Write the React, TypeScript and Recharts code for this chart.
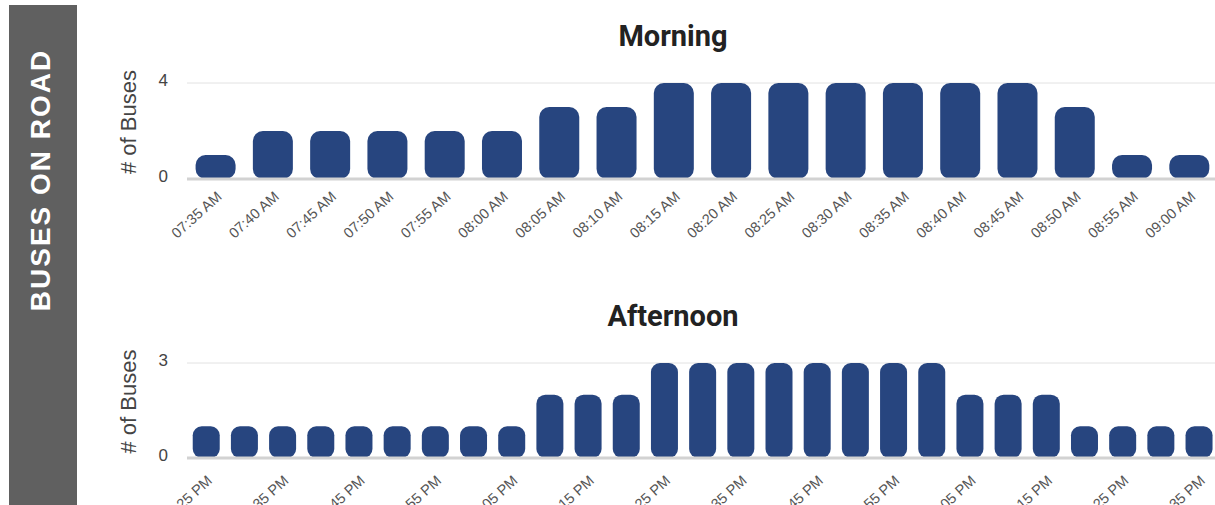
import React from "react";
import { BarChart, Bar, XAxis, YAxis, CartesianGrid } from "recharts";

// Morning run: 5-minute slots and buses on the road in each slot
const morningTimes = [
  "07:35 AM", "07:40 AM", "07:45 AM", "07:50 AM", "07:55 AM", "08:00 AM",
  "08:05 AM", "08:10 AM", "08:15 AM", "08:20 AM", "08:25 AM", "08:30 AM",
  "08:35 AM", "08:40 AM", "08:45 AM", "08:50 AM", "08:55 AM", "09:00 AM",
];
const morningBuses = [1, 2, 2, 2, 2, 2, 3, 3, 4, 4, 4, 4, 4, 4, 4, 3, 1, 1];
const morningTicks = [0, 4];

// Afternoon run
const afternoonTimes = [
  "02:25 PM", "02:30 PM", "02:35 PM", "02:40 PM", "02:45 PM", "02:50 PM",
  "02:55 PM", "03:00 PM", "03:05 PM", "03:10 PM", "03:15 PM", "03:20 PM",
  "03:25 PM", "03:30 PM", "03:35 PM", "03:40 PM", "03:45 PM", "03:50 PM",
  "03:55 PM", "04:00 PM", "04:05 PM", "04:10 PM", "04:15 PM", "04:20 PM",
  "04:25 PM", "04:30 PM", "04:35 PM",
];
const afternoonBuses = [
  1, 1, 1, 1, 1, 1, 1, 1, 1, 2, 2, 2, 3, 3, 3, 3, 3, 3, 3, 3, 2, 2, 2, 1, 1, 1, 1,
];
const afternoonTicks = [0, 3];

const BAR_COLOR = "#27457f";
const SANS = "'Liberation Sans', Arial, Helvetica, sans-serif";
const TITLE_FONT = "Roboto, 'Noto Sans', sans-serif";

const toRows = (times: string[], values: number[]) =>
  times.map((time, i) => ({ time, buses: values[i] }));

const makeXTick = (shift: number) => (props: any) => {
  const { x, y, payload } = props;
  const ax = x + 7;
  const ay = y + 19 + shift;
  return (
    <text
      x={ax}
      y={ay}
      transform={`rotate(-42, ${ax}, ${ay})`}
      textAnchor="end"
      fontFamily={SANS}
      fontSize={14.5}
      fill="#555"
    >
      {payload.value}
    </text>
  );
};

const YTick = (props: any) => {
  const { x, y, payload } = props;
  return (
    <text
      x={x}
      y={y}
      dy={-3}
      textAnchor="end"
      dominantBaseline="central"
      fontFamily={SANS}
      fontSize={17}
      fill="#444"
    >
      {payload.value}
    </text>
  );
};

const YTitle = (props: any) => {
  const { viewBox } = props;
  const cx = viewBox.x + 128;
  const cy = viewBox.y + viewBox.height / 2 - 9;
  return (
    <text
      x={cx}
      y={cy}
      transform={`rotate(-90, ${cx}, ${cy})`}
      textAnchor="middle"
      dominantBaseline="central"
      fontFamily={SANS}
      fontSize={22}
      fill="#444"
    >
      # of Buses
    </text>
  );
};

type PanelProps = {
  top: number;
  title: string;
  rows: { time: string; buses: number }[];
  ticks: number[];
  interval: number;
  radius: number;
  plotHeight: number;
  labelShift: number;
};

const CHART_H = 270;
const PLOT_TOP = 83;

const Panel = ({
  top,
  title,
  rows,
  ticks,
  interval,
  radius,
  plotHeight,
  labelShift,
}: PanelProps) => {
  const XTick = makeXTick(labelShift);
  return (
    <div style={{ position: "absolute", left: 0, top, width: 1218, height: CHART_H }}>
      <div
        style={{
          position: "absolute",
          left: 187,
          width: 972,
          top: 21.6,
          textAlign: "center",
          fontFamily: TITLE_FONT,
          fontWeight: 700,
          fontSize: 29,
          lineHeight: "29px",
          color: "#222",
        }}
      >
        {title}
      </div>
      <BarChart
        width={1218}
        height={CHART_H}
        data={rows}
        margin={{ top: PLOT_TOP, right: 0, bottom: 0, left: 0 }}
        barCategoryGap="15%"
      >
        <CartesianGrid horizontal vertical={false} stroke="#e2e2e2" />
        <XAxis
          dataKey="time"
          interval={interval}
          tickLine={false}
          tickSize={0}
          tickMargin={0}
          axisLine={{ stroke: "#d2d2d2", strokeWidth: 3 }}
          tick={<XTick />}
          height={CHART_H - PLOT_TOP - plotHeight}
        />
        <YAxis
          width={187}
          domain={[ticks[0], ticks[ticks.length - 1]]}
          ticks={ticks}
          axisLine={false}
          tickLine={false}
          tickSize={0}
          tickMargin={19}
          tick={<YTick />}
          label={<YTitle />}
        />
        <Bar
          dataKey="buses"
          fill={BAR_COLOR}
          radius={[radius, radius, radius, radius]}
          isAnimationActive={false}
        />
      </BarChart>
    </div>
  );
};

export default function App() {
  return (
    <div
      style={{
        position: "fixed",
        left: 0,
        top: 0,
        width: 1215,
        height: 505,
        overflow: "hidden",
        background: "#fff",
      }}
    >
      <svg
        width={90}
        height={505}
        style={{ position: "absolute", left: 0, top: 0 }}
      >
        <rect x={9} y={5} width={68} height={500} fill="#606060" />
        <text
          x={40}
          y={180}
          transform="rotate(-90, 40, 180)"
          textAnchor="middle"
          dominantBaseline="central"
          fontFamily={SANS}
          fontWeight={700}
          fontSize={28}
          letterSpacing={2}
          fill="#fff"
        >
          BUSES ON ROAD
        </text>
      </svg>
      <Panel
        top={0}
        title="Morning"
        rows={toRows(morningTimes, morningBuses)}
        ticks={morningTicks}
        interval={0}
        radius={10}
        plotHeight={96}
        labelShift={0}
      />
      <Panel
        top={280}
        title="Afternoon"
        rows={toRows(afternoonTimes, afternoonBuses)}
        ticks={afternoonTicks}
        interval={1}
        radius={9}
        plotHeight={95}
        labelShift={5}
      />
    </div>
  );
}
